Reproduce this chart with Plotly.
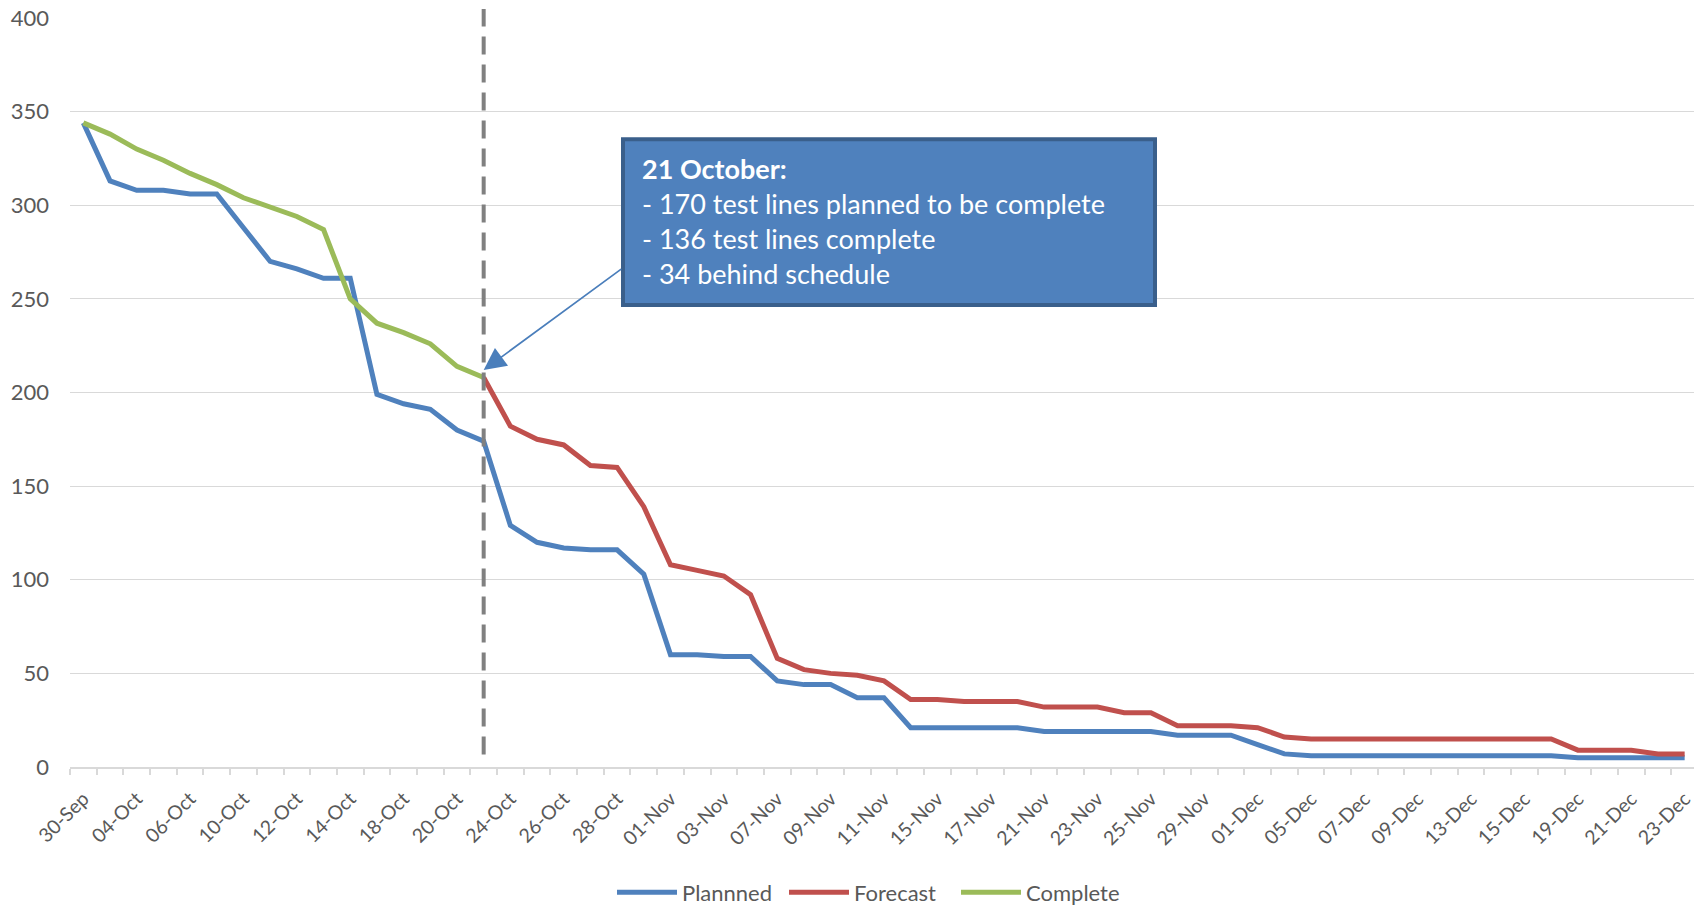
import plotly.graph_objects as go

dates = ["30-Sep", "03-Oct", "04-Oct", "05-Oct", "06-Oct", "07-Oct", "10-Oct", "11-Oct", "12-Oct", "13-Oct",
         "14-Oct", "17-Oct", "18-Oct", "19-Oct", "20-Oct", "21-Oct", "24-Oct", "25-Oct", "26-Oct", "27-Oct",
         "28-Oct", "31-Oct", "01-Nov", "02-Nov", "03-Nov", "04-Nov", "07-Nov", "08-Nov", "09-Nov", "10-Nov",
         "11-Nov", "14-Nov", "15-Nov", "16-Nov", "17-Nov", "18-Nov", "21-Nov", "22-Nov", "23-Nov", "24-Nov",
         "25-Nov", "28-Nov", "29-Nov", "30-Nov", "01-Dec", "02-Dec", "05-Dec", "06-Dec", "07-Dec", "08-Dec",
         "09-Dec", "12-Dec", "13-Dec", "14-Dec", "15-Dec", "16-Dec", "19-Dec", "20-Dec", "21-Dec", "22-Dec",
         "23-Dec"]

planned = [344, 313, 308, 308, 306, 306, 288, 270, 266, 261,
           261, 199, 194, 191, 180, 174, 129, 120, 117, 116,
           116, 103, 60, 60, 59, 59, 46, 44, 44, 37,
           37, 21, 21, 21, 21, 21, 19, 19, 19, 19,
           19, 17, 17, 17, 12, 7, 6, 6, 6, 6,
           6, 6, 6, 6, 6, 6, 5, 5, 5, 5,
           5]

forecast = [None] * 15 + [208, 182, 175, 172, 161,
           160, 139, 108, 105, 102, 92, 58, 52, 50, 49,
           46, 36, 36, 35, 35, 35, 32, 32, 32, 29,
           29, 22, 22, 22, 21, 16, 15, 15, 15, 15,
           15, 15, 15, 15, 15, 15, 9, 9, 9, 7,
           7]

complete = [344, 338, 330, 324, 317, 311, 304, 299, 294, 287,
            250, 237, 232, 226, 214, 208] + [None] * 45

status_date = "21-Oct"
callout_lines = ["<b>21 October:</b>",
                 "- 170 test lines planned to be complete",
                 "- 136 test lines complete",
                 "- 34 behind schedule"]

tick_text = [d if i % 2 == 0 else "" for i, d in enumerate(dates)]

FONT = "Lato"
GREY_TXT = "#595959"
GRID = "#D9D9D9"

W, H = 1702, 905
OFF = 8  # page body margin: figure is drawn 8px right/down of the page origin

# plot-area geometry in page pixels
PL, PR, PT, PB = 70, 1698, 17.5, 767.5
L, T = PL - OFF, PT - OFF
R, B = W - (PR - OFF), H - (PB - OFF)
PW, PH = PR - PL, PB - PT


def px(xp):
    return (xp - PL) / PW


def py(yp):
    return (PB - yp) / PH


fig = go.Figure()
fig.add_trace(go.Scatter(x=dates, y=planned, name="Plannned", mode="lines",
                         line=dict(color="#4F81BD", width=5)))
fig.add_trace(go.Scatter(x=dates, y=forecast, name="Forecast", mode="lines",
                         line=dict(color="#C0504D", width=5)))
fig.add_trace(go.Scatter(x=dates, y=complete, name="Complete", mode="lines",
                         line=dict(color="#9BBB59", width=5)))

# vertical dashed status line
fig.add_shape(type="line", xref="x", yref="paper", x0=status_date, x1=status_date,
              y0=py(755), y1=py(8.5), line=dict(color="#808080", width=4, dash="18px,10px"),
              layer="above")

# callout box
fig.add_shape(type="rect", xref="paper", yref="paper",
              x0=px(623), x1=px(1155), y0=py(305), y1=py(139),
              fillcolor="#4F81BD", line=dict(color="#3A5F8B", width=4), layer="above")
fig.add_annotation(xref="paper", yref="paper", x=px(640), y=py(150),
                   xanchor="left", yanchor="top", align="left", showarrow=False,
                   text="<br>".join(callout_lines),
                   font=dict(family=FONT, size=27, color="white"))
# arrow
fig.add_annotation(x=status_date, y=212, xref="x", yref="y", text="",
                   showarrow=True, axref="pixel", ayref="pixel", ax=139, ay=-102,
                   arrowhead=2, arrowsize=2.6, arrowwidth=1.7, arrowcolor="#4A7EBB")

fig.update_layout(
    width=W, height=H,
    margin=dict(l=L, r=R, t=T, b=B, autoexpand=False),
    plot_bgcolor="white", paper_bgcolor="white",
    font=dict(family=FONT, size=21, color=GREY_TXT),
    showlegend=True,
    legend=dict(orientation="h", x=px(612), xanchor="left", y=py(893), yanchor="middle",
                font=dict(family=FONT, size=22, color=GREY_TXT), itemwidth=60,
                entrywidth=97, entrywidthmode="pixels", traceorder="normal"),
    xaxis=dict(type="category", categoryorder="array", categoryarray=dates,
               range=[-0.5, len(dates) - 0.5], automargin=False,
               tickmode="array", tickvals=dates, ticktext=tick_text,
               tickson="boundaries", ticks="outside", ticklen=6, tickcolor=GRID, tickwidth=1.5,
               showline=True, linecolor=GRID, linewidth=1.5, showgrid=False,
               tickangle=-45, ticklabelstandoff=11,
               tickfont=dict(family=FONT, size=19.5, color=GREY_TXT)),
    yaxis=dict(range=[0, 400], dtick=50, tick0=0, showgrid=True, gridcolor=GRID, gridwidth=1.3,
               zeroline=False, showline=False, ticks="", ticklabelstandoff=20, automargin=False,
               ticklabeloverflow="allow",
               tickfont=dict(family=FONT, size=22, color=GREY_TXT)),
)

fig.write_html("out.html")
